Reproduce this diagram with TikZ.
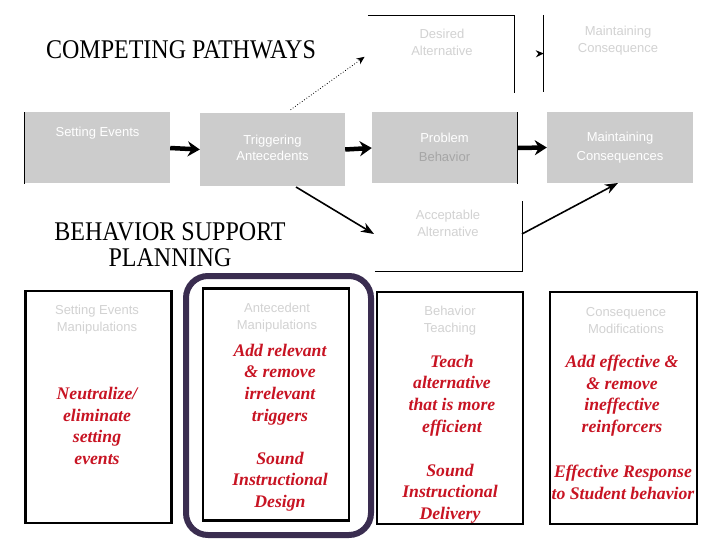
\documentclass[tikz,border=0pt]{standalone}
\usepackage{fontspec}
\setmainfont{Liberation Serif}
\newfontfamily\sansf{Liberation Sans}
\usetikzlibrary{arrows.meta}
\definecolor{redtxt}{RGB}{200,20,35}
\definecolor{ringc}{RGB}{58,45,80}
\definecolor{boxgray}{RGB}{204,204,204}
\tikzset{
  graybox/.style={fill=boxgray, minimum width=145pt, minimum height=71pt, inner sep=0pt},
  emptybox/.style={minimum width=146pt, minimum height=77pt, inner sep=0pt},
  faint/.style={font=\sansf\fontsize{13}{17}\selectfont, text=gray!35, align=center},
  faintw/.style={font=\sansf\fontsize{13}{18}\selectfont, text=white, align=center},
  planbox/.style={draw, line width=2.5pt, minimum width=146pt, minimum height=232pt, inner sep=0pt},
  redt/.style={font=\fontsize{17.7}{21.6}\selectfont\bfseries\itshape, text=redtxt, align=center},
  titlet/.style={font=\fontsize{27}{26}\selectfont, align=center, inner sep=0pt},
  bigarrow/.style={line width=4.5pt, -{Stealth[length=12pt,width=15pt]}},
  thinarrow/.style={line width=1.6pt, -{Stealth[length=13pt,width=10pt]}},
}
\begin{document}
\begin{tikzpicture}[x=1pt,y=-1pt]
\path[use as bounding box, fill=white] (0,0) rectangle (720,540);

% titles
\node[titlet] (t1) at (181,50) {\scalebox{0.89}[1]{COMPETING PATHWAYS}};
\node[titlet] (t2a) at (170,232) {\scalebox{0.89}[1]{BEHAVIOR SUPPORT}};
\node[titlet] (t2b) at (170,258) {\scalebox{0.89}[1]{PLANNING}};

% gray row
\node[graybox] (set) at (97.5,148) {};
\node[faintw, anchor=north] at (97.5,124) {Setting Events};
\node[graybox, minimum height=73pt] (trig) at (272.5,149.5) {\color{white}\sansf\fontsize{13}{16}\selectfont\begin{tabular}{c}Triggering\\Antecedents\end{tabular}};
\node[graybox] (prob) at (444.5,148) {\sansf\fontsize{13}{19}\selectfont\begin{tabular}{c}\color{white}Problem\\\color{gray!70}Behavior\end{tabular}};
\node[graybox, minimum width=146pt] (main) at (620,147.5) {\color{white}\sansf\fontsize{13}{19}\selectfont\begin{tabular}{c}Maintaining\\Consequences\end{tabular}};
\draw[line width=1pt] (set.north west) -- (set.south west);
\draw[line width=1pt] (prob.north east) -- (prob.south east);

\draw[bigarrow] (set.east) -- (trig.west);
\draw[bigarrow] (trig.east) -- (prob.west);
\draw[bigarrow] (prob.east) -- (main.west);

% desired alternative (partial box)
\node[emptybox] (des) at (441,54.5) {};
\node[faint] at (442,42) {Desired\\Alternative};

% maintaining consequence (left line only)
\node[emptybox, minimum width=140pt] (mc) at (614,53.5) {};
\node[faint] at (618,41) {Maintaining\\Consequence};

\draw[white, line width=1pt, -{Stealth[black,length=8pt,width=7pt]}] (des.east) -- (mc.west);
\draw[line width=1pt] (des.north west) -- (des.north east) -- (des.south east);
\draw[line width=1pt] (mc.north west) -- (mc.south west);
\draw[dotted, line width=0.8pt, -{Stealth[length=8pt,width=7pt]}, shorten >=4pt] (trig.north) ++(18,-3) coordinate (dstart) (dstart) -- (des.west);

% acceptable alternative
\node[emptybox, minimum width=147pt, minimum height=70pt] (acc) at (448.5,236) {};
\node[faint] at (448,223.5) {Acceptable\\Alternative};
\draw[line width=1pt] (acc.south west) -- (acc.south east) -- (acc.north east);
\coordinate (accin) at (374,234);
\coordinate (accout) at (522,234);
\coordinate (mainin) at (618,183);
\coordinate (trigout) at (296,187);
\draw[thinarrow] (trigout) -- (accin);
\draw[thinarrow] (accout) -- (mainin);

% planning boxes
\draw[ringc, line width=6pt, rounded corners=22pt] (186,276) rectangle (371,535);
\node[planbox] (p1) at (98.5,407) {};
\node[planbox] (p2) at (276,404.5) {};
\node[planbox] (p3) at (450,408) {};
\node[planbox, minimum width=147pt] (p4) at (623.5,408) {};

\node[faint] at (97,320) {Setting Events\\Manipulations};
\node[faint] at (277,318) {Antecedent\\Manipulations};
\node[faint] at (450,321) {Behavior\\Teaching};
\node[faint] at (626,321) {Consequence\\Modifications};

\node[redt] at (97,426) {Neutralize/\\eliminate\\setting\\events};
\node[redt] at (280,384.5) {Add relevant\\\&{} remove\\irrelevant\\triggers};
\node[redt] at (280,481.5) {Sound\\Instructional\\Design};
\node[redt] at (452,395.5) {Teach\\alternative\\that is more\\efficient};
\node[redt] at (450,493.5) {Sound\\Instructional\\Delivery};
\node[redt] at (622,395.5) {Add effective \&\\\&{} remove\\ineffective\\reinforcers};
\node[redt] at (623,482.5) {Effective Response\\to Student behavior};
\end{tikzpicture}
\end{document}
